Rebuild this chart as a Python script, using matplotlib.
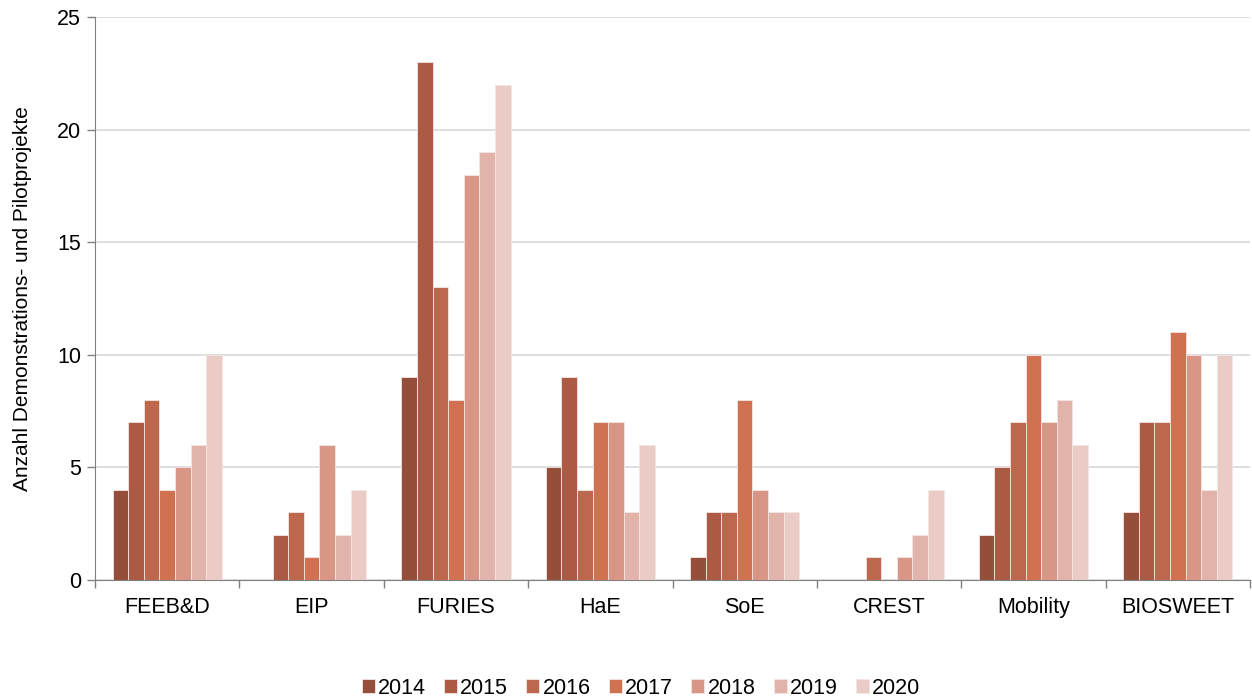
import matplotlib
matplotlib.use("Agg")
import matplotlib.pyplot as plt
import numpy as np

plt.rcParams['font.family'] = ['Liberation Sans', 'DejaVu Sans']

categories = ["FEEB&D", "EIP", "FURIES", "HaE", "SoE", "CREST", "Mobility", "BIOSWEET"]
years = ["2014", "2015", "2016", "2017", "2018", "2019", "2020"]
v2014 = [4, 0, 9, 5, 1, 0, 2, 3]
v2015 = [7, 2, 23, 9, 3, 0, 5, 7]
v2016 = [8, 3, 13, 4, 3, 1, 7, 7]
v2017 = [4, 1, 8, 7, 8, 0, 10, 11]
v2018 = [5, 6, 18, 7, 4, 1, 7, 10]
v2019 = [6, 2, 19, 3, 3, 2, 8, 4]
v2020 = [10, 4, 22, 6, 3, 4, 6, 10]
series = [v2014, v2015, v2016, v2017, v2018, v2019, v2020]
colors = ["#944e3a", "#ab5b43", "#bd674d", "#d07252", "#d99585", "#e2b3aa", "#ebcbc6"]

fig = plt.figure(figsize=(12.52, 6.97), dpi=100)
ax = fig.add_axes([95 / 1252, 1 - 580 / 697, (1250 - 95) / 1252, (580 - 17) / 697])

n = len(categories)
x = np.arange(n)
bw = 0.108
for i, (vals, c, yr) in enumerate(zip(series, colors, years)):
    ax.bar(x - 3 * bw + i * bw, vals, width=bw, color=c, edgecolor="#f3e6e2",
           linewidth=0.6, label=yr, zorder=3)

ax.set_xlim(-0.5, n - 0.5)
ax.set_ylim(0, 25)
ax.set_yticks([0, 5, 10, 15, 20, 25])
ax.yaxis.grid(True, color="#d9d9d9", linewidth=1.2, zorder=0)
ax.set_axisbelow(True)

ax.set_xticks(x)
ax.set_xticklabels(categories, fontsize=15.5)
ax.set_xticks(np.arange(-0.5, n, 1.0), minor=True)
ax.tick_params(axis="x", which="major", length=0, pad=12)
ax.tick_params(axis="x", which="minor", length=6, color="#808080", width=1)
ax.tick_params(axis="y", labelsize=15.5, length=6, color="#808080", width=1, pad=4)

for s in ["top", "right"]:
    ax.spines[s].set_visible(False)
ax.spines["left"].set_color("#808080")
ax.spines["bottom"].set_color("#808080")

ax.set_ylabel("Anzahl Demonstrations- und Pilotprojekte", fontsize=15, labelpad=18)

fig.legend(loc="lower center", bbox_to_anchor=(0.512, -0.03), ncol=7, frameon=False,
           fontsize=15.5, handlelength=0.6, handleheight=0.6, handletextpad=0.15,
           columnspacing=0.85)

fig.savefig("out.png", dpi=100)
